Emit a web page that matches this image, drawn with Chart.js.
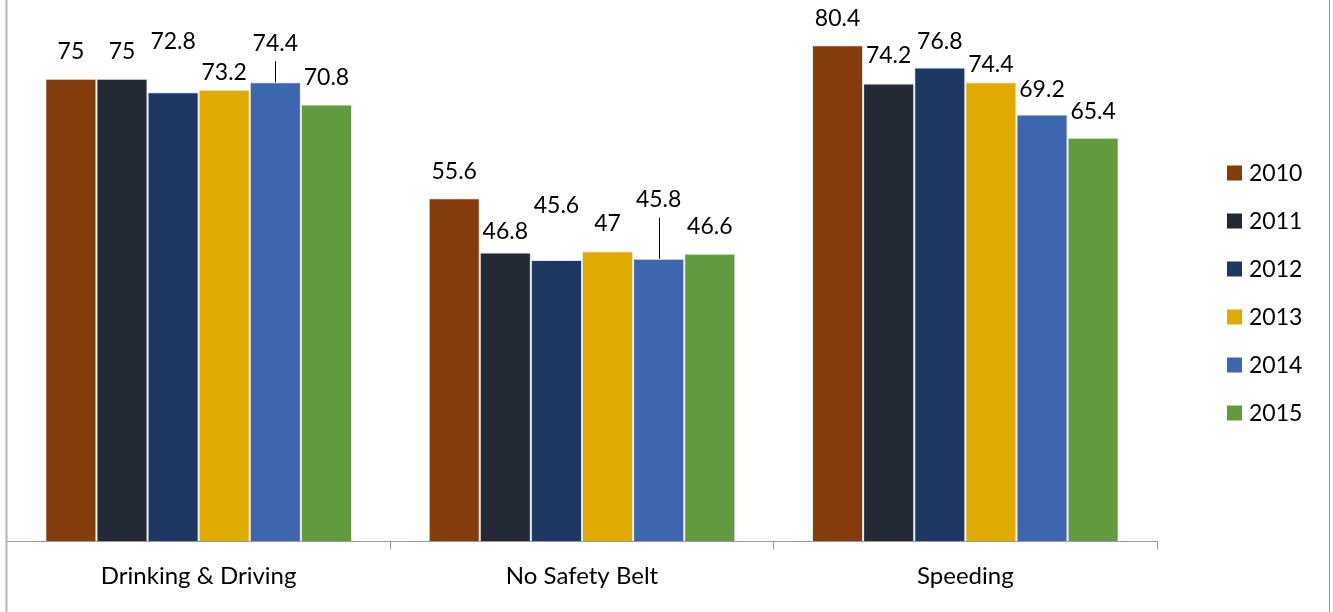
<!DOCTYPE html>
<html>
<head>
<meta charset="utf-8">
<script src="https://cdn.jsdelivr.net/npm/chart.js@4.4.1/dist/chart.umd.min.js"></script>
<style>
  html, body { margin: 0; padding: 0; background: #ffffff; }
  #wrap { width: 1333px; height: 612px; position: relative; }
</style>
</head>
<body>
<div id="wrap"><canvas id="chart" width="1333" height="612"></canvas></div>
<script>
// Categories and yearly values
const categories = ['Drinking & Driving', 'No Safety Belt', 'Speeding'];
const years = ['2010', '2011', '2012', '2013', '2014', '2015'];
const values2010 = [75, 55.6, 80.4];
const values2011 = [75, 46.8, 74.2];
const values2012 = [72.8, 45.6, 76.8];
const values2013 = [73.2, 47, 74.4];
const values2014 = [74.4, 45.8, 69.2];
const values2015 = [70.8, 46.6, 65.4];

const seriesValues = [values2010, values2011, values2012, values2013, values2014, values2015];
const seriesColors = ['#843C0C', '#232A35', '#1F3763', '#E1AA00', '#3E66AF', '#629B3F'];

// Distance (px) from a bar's top to the centre of its value label, per series and category
const labelLift = [
  [27, 27, 27],
  [27, 21, 28],
  [51, 54, 26],
  [17, 28, 18],
  [39, 59, 25],
  [27, 27, 26]
];
// Labels that are pulled away from their bar get a leader line
const leaderLine = [
  [false, false, false],
  [false, false, false],
  [false, false, false],
  [false, false, false],
  [true, true, false],
  [false, false, false]
];

const FONT = 'Lato, "Liberation Sans", sans-serif';

const datasets = years.map((y, i) => ({
  label: y,
  data: seriesValues[i],
  backgroundColor: seriesColors[i],
  borderColor: 'rgba(200,200,200,0.45)',
  borderWidth: 1,
  categoryPercentage: 0.8,
  barPercentage: 1.0
}));

// Value labels above the bars
const valueLabels = {
  id: 'valueLabels',
  afterDatasetsDraw(chart) {
    const ctx = chart.ctx;
    ctx.save();
    ctx.font = '23px ' + FONT;
    ctx.fillStyle = '#000000';
    ctx.textAlign = 'center';
    ctx.textBaseline = 'middle';
    chart.data.datasets.forEach((ds, di) => {
      const meta = chart.getDatasetMeta(di);
      meta.data.forEach((bar, ci) => {
        const top = bar.y;
        const cy = top - labelLift[di][ci];
        ctx.fillText(String(ds.data[ci]), bar.x, cy);
        if (leaderLine[di][ci]) {
          ctx.beginPath();
          ctx.strokeStyle = '#000000';
          ctx.lineWidth = 1;
          ctx.moveTo(Math.round(bar.x) + 0.5, cy + 18);
          ctx.lineTo(Math.round(bar.x) + 0.5, top);
          ctx.stroke();
        }
      });
    });
    ctx.restore();
  }
};

// Legend column on the right and the outer frame
const sideLegend = {
  id: 'sideLegend',
  afterDraw(chart) {
    const ctx = chart.ctx;
    ctx.save();
    ctx.font = '23px ' + FONT;
    ctx.textAlign = 'left';
    ctx.textBaseline = 'middle';
    chart.data.datasets.forEach((ds, i) => {
      const cy = 173 + i * 48;
      ctx.fillStyle = ds.backgroundColor;
      ctx.fillRect(1227, cy - 7.5, 15, 15);
      ctx.fillStyle = '#000000';
      ctx.fillText(ds.label, 1249, cy + 1);
    });
    // frame
    ctx.strokeStyle = '#B4B4B4';
    ctx.lineWidth = 2;
    ctx.beginPath();
    ctx.moveTo(6.5, 0);
    ctx.lineTo(6.5, 612);
    ctx.stroke();
    ctx.strokeStyle = '#9A9A9A';
    ctx.lineWidth = 1;
    ctx.beginPath();
    ctx.moveTo(1329.5, 0);
    ctx.lineTo(1329.5, 612);
    ctx.stroke();
    ctx.restore();
  }
};

new Chart(document.getElementById('chart'), {
  type: 'bar',
  data: { labels: categories, datasets },
  options: {
    responsive: false,
    animation: false,
    layout: { padding: { left: 7, right: 176, top: 17, bottom: 0 } },
    plugins: {
      legend: { display: false },
      tooltip: { enabled: false }
    },
    scales: {
      x: {
        offset: true,
        grid: {
          offset: true,
          drawOnChartArea: false,
          drawTicks: true,
          tickLength: 8,
          color: '#9A9A9A',
          lineWidth: 1
        },
        border: { display: true, color: '#9A9A9A', width: 1 },
        ticks: {
          color: '#000000',
          font: { family: FONT, size: 24 },
          padding: 13,
          maxRotation: 0
        },
        afterFit(scale) { scale.height = 71; }
      },
      y: {
        display: false,
        min: 0,
        max: 85
      }
    }
  },
  plugins: [valueLabels, sideLegend]
});
</script>
</body>
</html>
